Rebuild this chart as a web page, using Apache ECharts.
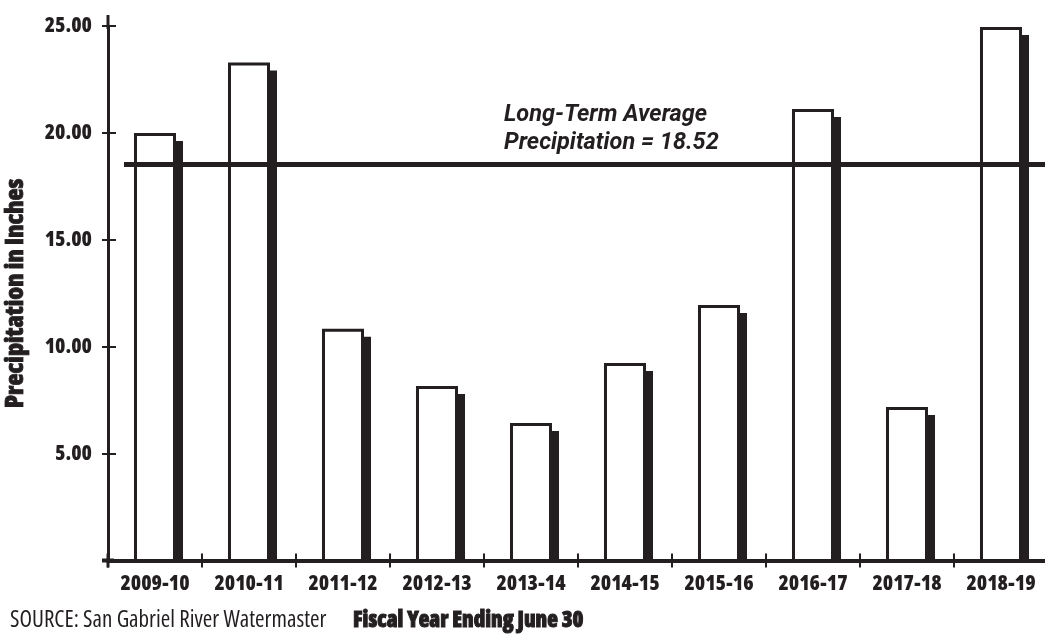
<!DOCTYPE html>
<html>
<head>
<meta charset="utf-8">
<script src="https://cdn.jsdelivr.net/npm/echarts@6/dist/echarts.min.js"></script>
<style>
html,body{margin:0;padding:0;background:#ffffff;}
#c{width:1045px;height:635px;}
</style>
</head>
<body>
<div id="c"></div>
<script>
// ---- data ----
const categories = ['2009-10','2010-11','2011-12','2012-13','2013-14','2014-15','2015-16','2016-17','2017-18','2018-19'];
const precipitation = [20.00, 23.29, 10.84, 8.16, 6.43, 9.24, 11.95, 21.12, 7.18, 24.95];
const longTermAverage = 18.52;
const yMin = 0, yMax = 25, yInterval = 5;
const averageLabel = 'Long-Term Average\nPrecipitation = ' + longTermAverage.toFixed(2);
const xTitle = 'Fiscal Year Ending June 30';
const yTitle = 'Precipitation in Inches';
const sourceText = 'SOURCE: San Gabriel River Watermaster';

const INK = '#231f20';
const FONT = "'Open Sans', 'Roboto', sans-serif";
const ITALIC_FONT = "'Roboto', 'Open Sans', sans-serif";
const HEAVY = '800 condensed';
const REGULAR = 'normal condensed';

const chart = echarts.init(document.getElementById('c'), null, {renderer: 'canvas'});

const barData = categories.map((c, i) => [i, precipitation[i]]);

const option = {
  animation: false,
  backgroundColor: '#ffffff',
  title: [
    {
      text: averageLabel, left: 504, top: 101, padding: 0,
      textStyle: {fontFamily: ITALIC_FONT, fontSize: 23.5, fontWeight: 'bold', fontStyle: 'italic', color: INK, lineHeight: 28}
    },
    {
      text: xTitle, left: 353, top: 610, padding: 0,
      textStyle: {fontFamily: FONT, fontSize: 22, fontWeight: HEAVY, color: INK, textBorderColor: INK, textBorderWidth: 1}
    },
    {
      text: sourceText, left: 10, top: 609, padding: 0,
      textStyle: {fontFamily: FONT, fontSize: 23, fontWeight: REGULAR, color: INK}
    }
  ],
  grid: {left: 108, right: -3, top: 26, bottom: 74.5, containLabel: false, outerBoundsMode: 'none'},
  xAxis: [
    {
      type: 'category', data: categories, position: 'bottom', z: 10,
      axisLine: {show: true, lineStyle: {color: INK, width: 4}, symbol: ['rect', 'none'], symbolSize: [4, 12], symbolOffset: [0, 0]},
      axisTick: {show: true, length: 7, lineStyle: {color: INK, width: 2}},
      axisLabel: {show: true, interval: 0, hideOverlap: false, margin: 13, fontFamily: FONT, fontSize: 21, fontWeight: HEAVY, color: INK},
      splitLine: {show: false}
    },
    {
      type: 'category', data: categories, position: 'bottom', z: 10,
      axisLine: {show: false},
      axisTick: {show: true, inside: true, length: 7, lineStyle: {color: INK, width: 2}},
      axisLabel: {show: false},
      splitLine: {show: false}
    }
  ],
  yAxis: [
    {
      type: 'value', min: yMin, max: yMax, interval: yInterval, position: 'left',
      axisLine: {show: true, lineStyle: {color: INK, width: 3}, symbol: ['rect', 'rect'], symbolSize: [3, 14], symbolOffset: [0, 4]},
      axisTick: {show: true, length: 6, lineStyle: {color: INK, width: 2}},
      axisLabel: {
        show: true, margin: 16, fontFamily: FONT, fontSize: 21, fontWeight: HEAVY, color: INK,
        formatter: function (v) { return v === 0 ? '' : v.toFixed(2); }
      },
      splitLine: {show: false},
      name: yTitle, nameLocation: 'middle', nameGap: 80, nameRotate: 90,
      nameTextStyle: {fontFamily: FONT, fontSize: 25, fontWeight: HEAVY, color: INK, textBorderColor: INK, textBorderWidth: 0.8}
    },
    {
      type: 'value', min: yMin, max: yMax, interval: yInterval, position: 'left',
      axisLine: {show: false},
      axisTick: {show: true, inside: true, length: 8, lineStyle: {color: INK, width: 2}},
      axisLabel: {show: false},
      splitLine: {show: false}
    }
  ],
  series: [
    {
      type: 'custom',
      xAxisIndex: 0, yAxisIndex: 0,
      encode: {x: 0, y: 1},
      data: barData,
      z: 2,
      renderItem: function (params, api) {
        const i = api.value(0);
        const v = api.value(1);
        const topPt = api.coord([i, v]);
        const basePt = api.coord([i, 0]);
        const band = api.size([1, 0])[0];
        const w = band * 0.447;
        const sw = 3;
        const left = topPt[0] - w / 2;
        const h = basePt[1] - topPt[1];
        return {
          type: 'group',
          children: [
            {
              type: 'rect',
              shape: {x: left + w - sw, y: topPt[1] + 8, width: sw + 7, height: h - 8},
              style: {fill: INK}
            },
            {
              type: 'rect',
              shape: {x: left + sw / 2, y: topPt[1] + sw / 2, width: w - sw, height: h - sw / 2},
              style: {fill: '#ffffff', stroke: INK, lineWidth: sw}
            }
          ]
        };
      }
    },
    {
      type: 'line',
      data: [],
      z: 5,
      markLine: {
        silent: true,
        symbol: ['none', 'none'],
        label: {show: false},
        lineStyle: {color: INK, width: 5, type: 'solid'},
        data: [[{x: 124, yAxis: longTermAverage}, {x: 1045, yAxis: longTermAverage}]]
      }
    }
  ]
};

chart.setOption(option);
</script>
</body>
</html>
